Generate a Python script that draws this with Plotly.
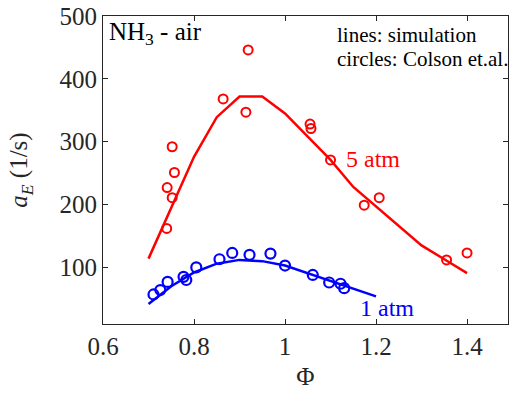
import plotly.graph_objects as go

# Simulation lines
phi_sim_5 = [0.70, 0.75, 0.80, 0.85, 0.90, 0.95, 1.00, 1.05, 1.10, 1.15, 1.20, 1.25, 1.30, 1.35, 1.40]
ae_sim_5 = [114, 195, 276, 339, 372, 372, 345, 308, 271, 228, 197, 165, 135, 113, 91]
phi_sim_1 = [0.70, 0.75, 0.80, 0.85, 0.90, 0.95, 1.00, 1.05, 1.10, 1.15, 1.20]
ae_sim_1 = [42, 70, 92, 106, 112, 110, 103, 91, 79, 66, 54]

# Experimental data (Colson et al.)
phi_exp_5 = [0.740, 0.741, 0.752, 0.752, 0.757, 0.864, 0.914, 0.919, 1.055, 1.057, 1.100, 1.174, 1.207, 1.355, 1.400]
ae_exp_5 = [162, 227, 211, 292, 251, 368, 347, 446, 328, 321, 271, 199, 211, 112, 123]
phi_exp_1 = [0.711, 0.726, 0.742, 0.777, 0.783, 0.805, 0.856, 0.884, 0.922, 0.968, 1.000, 1.061, 1.097, 1.122, 1.130]
ae_exp_1 = [57, 64, 77, 85, 80, 100, 113, 123, 120, 122, 103, 88, 76, 74, 67]

x_ticks = [0.6, 0.8, 1.0, 1.2, 1.4]
x_tick_text = ["0.6", "0.8", "1", "1.2", "1.4"]
y_ticks = [100, 200, 300, 400, 500]

RED = "#ff0000"
BLUE = "#0000ff"
FONT = "'Liberation Serif', 'Times New Roman', Times, serif"
AX = "#262626"

fig = go.Figure()
fig.add_trace(go.Scatter(x=phi_sim_5, y=ae_sim_5, mode="lines",
                         line=dict(color=RED, width=2.5), showlegend=False))
fig.add_trace(go.Scatter(x=phi_sim_1, y=ae_sim_1, mode="lines",
                         line=dict(color=BLUE, width=2.5), showlegend=False))
fig.add_trace(go.Scatter(x=phi_exp_5, y=ae_exp_5, mode="markers",
                         marker=dict(symbol="circle-open", size=9, color=RED, line=dict(width=2)),
                         showlegend=False))
fig.add_trace(go.Scatter(x=phi_exp_1, y=ae_exp_1, mode="markers",
                         marker=dict(symbol="circle-open", size=10, color=BLUE, line=dict(width=2.2)),
                         showlegend=False))

fig.add_annotation(x=0.01, y=1.0, xref="paper", yref="paper", xanchor="left", yanchor="top",
                   text="NH<sub>3</sub> - air", showarrow=False,
                   font=dict(family=FONT, size=25, color="black"))
fig.add_annotation(x=0.573, y=0.938, xref="paper", yref="paper", xanchor="left", yanchor="middle",
                   text="lines: simulation", showarrow=False,
                   font=dict(family=FONT, size=21, color="black"))
fig.add_annotation(x=0.573, y=0.862, xref="paper", yref="paper", xanchor="left", yanchor="middle",
                   text="circles: Colson et.al.", showarrow=False,
                   font=dict(family=FONT, size=21, color="black"))
fig.add_annotation(x=1.130, y=272, xref="x", yref="y", xanchor="left", yanchor="middle",
                   text="5 atm", showarrow=False, font=dict(family=FONT, size=24, color=RED))
fig.add_annotation(x=1.160, y=36, xref="x", yref="y", xanchor="left", yanchor="middle",
                   text="1 atm", showarrow=False, font=dict(family=FONT, size=24, color=BLUE))

fig.update_layout(
    width=510, height=394,
    margin=dict(l=103, r=2, t=16, b=70),
    plot_bgcolor="white", paper_bgcolor="white",
    font=dict(family=FONT, color=AX),
    xaxis=dict(range=[0.6, 1.49], tickvals=x_ticks, ticktext=x_tick_text,
               ticks="inside", ticklen=5, tickcolor=AX, showline=True, linecolor=AX, linewidth=1,
               mirror="ticks", showgrid=False, zeroline=False,
               tickfont=dict(family=FONT, size=25, color=AX),
               title=dict(text="Φ", font=dict(family=FONT, size=25, color=AX), standoff=8)),
    yaxis=dict(range=[10, 500], tickvals=y_ticks,
               ticks="inside", ticklen=5, tickcolor=AX, showline=True, linecolor=AX, linewidth=1,
               mirror="ticks", showgrid=False, zeroline=False,
               tickfont=dict(family=FONT, size=25, color=AX),
               title=dict(text="<i>a</i><sub><i>E</i></sub> (1/s)",
                          font=dict(family=FONT, size=25, color=AX), standoff=24)),
)

fig.write_html("out.html")
